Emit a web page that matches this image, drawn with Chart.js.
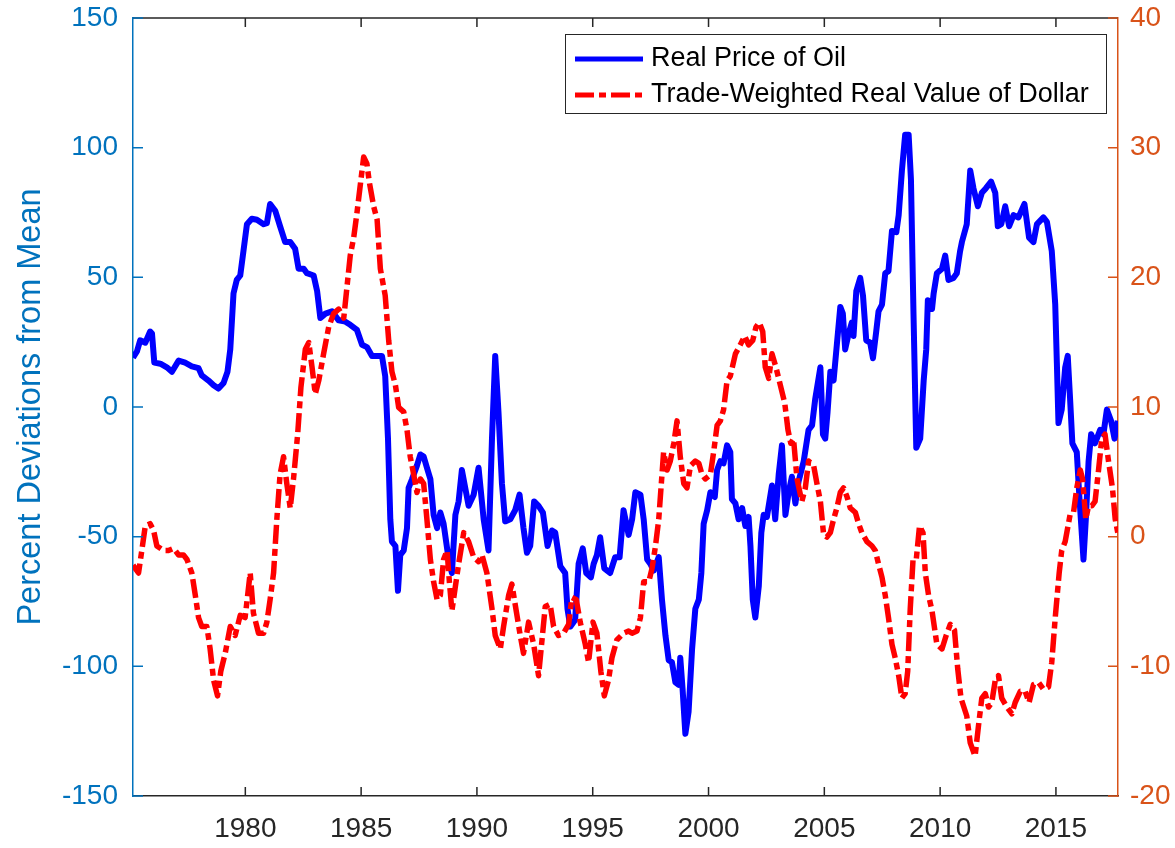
<!DOCTYPE html>
<html>
<head>
<meta charset="utf-8">
<script src="https://cdn.jsdelivr.net/npm/chart.js@4.4.0/dist/chart.umd.min.js"></script>
<style>
  html, body { margin: 0; padding: 0; background: #fff; }
  #wrap { width: 1175px; height: 848px; }
</style>
</head>
<body>
<div id="wrap"><canvas id="oilChart" width="1175" height="848"></canvas></div>
<script>
// Real price of oil, percent deviation from mean (left axis)
const oilYears = [1975.15, 1975.32, 1975.46, 1975.68, 1975.89, 1975.97, 1976.07, 1976.33, 1976.61, 1976.83,
  1977.12, 1977.40, 1977.69, 1977.98, 1978.12, 1978.41, 1978.63, 1978.84, 1979.06, 1979.23,
  1979.35, 1979.49, 1979.63, 1979.78, 1979.92, 1980.07, 1980.28, 1980.50, 1980.79, 1980.93,
  1981.07, 1981.29, 1981.50, 1981.72, 1981.94, 1982.15, 1982.30, 1982.52, 1982.66, 1982.95,
  1983.10, 1983.24, 1983.46, 1983.74, 1984.03, 1984.32, 1984.53, 1984.82, 1985.04, 1985.25,
  1985.47, 1985.76, 1985.90, 1986.04, 1986.16, 1986.26, 1986.33, 1986.48, 1986.59, 1986.69,
  1986.84, 1986.98, 1987.05, 1987.20, 1987.41, 1987.56, 1987.70, 1987.84, 1987.99, 1988.13,
  1988.28, 1988.42, 1988.56, 1988.78, 1988.92, 1989.07, 1989.21, 1989.35, 1989.64, 1989.86,
  1990.07, 1990.29, 1990.50, 1990.65, 1990.79, 1990.93, 1991.08, 1991.22, 1991.44, 1991.65,
  1991.84, 1992.01, 1992.16, 1992.30, 1992.47, 1992.66, 1992.85, 1993.05, 1993.24, 1993.38,
  1993.60, 1993.81, 1993.91, 1994.03, 1994.24, 1994.39, 1994.57, 1994.72, 1994.92, 1995.04,
  1995.18, 1995.32, 1995.50, 1995.75, 1995.97, 1996.16, 1996.33, 1996.55, 1996.70, 1996.84,
  1997.06, 1997.20, 1997.35, 1997.49, 1997.63, 1997.85, 1997.99, 1998.14, 1998.28, 1998.42,
  1998.57, 1998.71, 1998.78, 1998.88, 1999.00, 1999.14, 1999.29, 1999.43, 1999.58, 1999.69,
  1999.79, 1999.94, 2000.08, 2000.27, 2000.37, 2000.51, 2000.65, 2000.80, 2000.94, 2001.01,
  2001.16, 2001.30, 2001.45, 2001.59, 2001.73, 2001.81, 2001.91, 2002.02, 2002.17, 2002.28,
  2002.38, 2002.52, 2002.74, 2002.88, 2003.03, 2003.17, 2003.32, 2003.46, 2003.60, 2003.75,
  2003.89, 2004.11, 2004.32, 2004.47, 2004.61, 2004.83, 2004.94, 2005.04, 2005.14, 2005.26,
  2005.40, 2005.54, 2005.69, 2005.80, 2005.90, 2006.05, 2006.19, 2006.26, 2006.38, 2006.55,
  2006.67, 2006.81, 2006.98, 2007.10, 2007.24, 2007.34, 2007.49, 2007.63, 2007.77, 2007.92,
  2008.11, 2008.21, 2008.35, 2008.49, 2008.64, 2008.74, 2008.85, 2008.97, 2009.14, 2009.29,
  2009.40, 2009.47, 2009.65, 2009.72, 2009.86, 2010.08, 2010.22, 2010.36, 2010.58, 2010.72,
  2010.86, 2010.94, 2011.15, 2011.30, 2011.44, 2011.63, 2011.80, 2011.97, 2012.20, 2012.38,
  2012.49, 2012.64, 2012.81, 2012.98, 2013.17, 2013.38, 2013.64, 2013.84, 2014.03, 2014.18,
  2014.46, 2014.61, 2014.82, 2014.97, 2015.04, 2015.11, 2015.25, 2015.40, 2015.51, 2015.61,
  2015.71, 2015.90, 2016.00, 2016.19, 2016.29, 2016.41, 2016.52, 2016.69, 2016.91, 2017.05,
  2017.20, 2017.38, 2017.53, 2017.67];
const oilValues = [19, 21.4, 25.7, 24.8, 29.1, 28.3, 17.1, 16.7, 15.3, 13.6,
  17.9, 17.1, 15.7, 15.0, 12.2, 10.2, 8.4, 7.1, 9.3, 13.6,
  22.2, 43.8, 49.0, 50.7, 60.2, 70.5, 72.6, 72.2, 70.5, 70.9,
  78.3, 75.7, 69.7, 63.6, 63.6, 61.0, 53.3, 53.3, 51.6, 50.7,
  44.7, 34.3, 36.0, 36.9, 33.4, 32.9, 31.7, 29.7, 24.0, 23.1,
  19.7, 19.7, 19.7, 11.9, -12.2, -43.3, -51.9, -53.6, -70.9, -57.1,
  -55.3, -46.7, -31.2, -27.8, -22.6, -18.3, -19.1, -23.4, -27.8, -41.6,
  -46.7, -40.7, -45.0, -58.8, -64.0, -41.6, -36.4, -24.3, -38.1, -33.8,
  -23.4, -43.3, -55.3, -12.2, 19.7, -1.9, -29.5, -44.1, -43.3, -39.8,
  -33.8, -46.7, -56.2, -53.6, -36.4, -38.1, -40.7, -53.6, -47.6, -48.4,
  -61.4, -64.0, -77.8, -84.7, -82.1, -60.5, -54.5, -64.0, -65.7, -60.5,
  -57.1, -50.2, -62.2, -64.0, -57.9, -57.9, -39.8, -49.3, -43.3, -32.9,
  -33.8, -43.3, -58.8, -60.5, -63.1, -57.9, -74.3, -88.1, -97.6, -98.4,
  -106.2, -107.1, -96.7, -108.8, -126.0, -117.4, -93.3, -77.8, -74.3, -64.0,
  -45.0, -39.8, -32.9, -34.7, -24.3, -20.9, -21.7, -14.8, -17.4, -35.5,
  -37.2, -43.3, -39.0, -45.9, -42.4, -53.6, -74.3, -81.2, -69.1, -48.4,
  -41.6, -42.4, -30.3, -43.3, -26.0, -14.8, -41.6, -32.9, -26.9, -37.2,
  -28.6, -20.9, -8.8, -7.1, 3.3, 15.3, -10.5, -12.2, -1.9, 13.6,
  10.2, 24.0, 38.6, 36.0, 22.2, 28.3, 32.6, 27.4, 44.7, 49.8,
  42.9, 25.7, 24.8, 18.8, 29.1, 36.9, 39.5, 51.6, 52.4, 67.9,
  67.4, 74.0, 91.2, 105.0, 105.0, 87.8, 36.0, -15.7, -12.2, 10.2,
  22.2, 41.2, 37.8, 43.8, 51.6, 53.3, 58.4, 49.0, 49.8, 51.6,
  60.0, 63.6, 70.5, 91.2, 84.3, 77.4, 82.6, 84.3, 86.9, 82.6,
  69.7, 70.5, 77.4, 69.7, 74.0, 73.1, 78.3, 65.3, 63.6, 70.5,
  73.1, 71.4, 60.2, 39.5, 17.1, -6.2, -1.0, 15.3, 19.7, 3.3,
  -14.0, -17.4, -32.9, -58.8, -43.3, -20.9, -10.5, -14.0, -8.8, -10.5,
  -1.0, -5.3, -12.2, -5.3];

// Trade-weighted real value of the dollar (right axis)
const dollarYears = [1975.15, 1975.39, 1975.53, 1975.68, 1975.89, 1976.04, 1976.18, 1976.47, 1976.68, 1976.90,
  1977.12, 1977.33, 1977.48, 1977.69, 1977.84, 1977.98, 1978.12, 1978.34, 1978.48, 1978.63,
  1978.80, 1978.94, 1979.13, 1979.35, 1979.56, 1979.78, 1979.99, 1980.21, 1980.35, 1980.57,
  1980.79, 1980.93, 1981.07, 1981.22, 1981.36, 1981.50, 1981.65, 1981.79, 1981.94, 1982.08,
  1982.26, 1982.40, 1982.59, 1982.74, 1982.88, 1983.02, 1983.17, 1983.38, 1983.60, 1983.81,
  1984.03, 1984.25, 1984.39, 1984.53, 1984.68, 1984.82, 1984.97, 1985.11, 1985.25, 1985.35,
  1985.54, 1985.69, 1985.83, 1986.04, 1986.19, 1986.33, 1986.48, 1986.62, 1986.84, 1986.98,
  1987.12, 1987.27, 1987.41, 1987.56, 1987.70, 1987.84, 1987.99, 1988.13, 1988.28, 1988.42,
  1988.56, 1988.71, 1988.81, 1988.92, 1989.07, 1989.21, 1989.43, 1989.64, 1989.86, 1990.07,
  1990.22, 1990.43, 1990.65, 1990.79, 1991.01, 1991.15, 1991.37, 1991.51, 1991.65, 1991.87,
  1992.01, 1992.23, 1992.45, 1992.66, 1992.81, 1992.95, 1993.16, 1993.31, 1993.52, 1993.74,
  1993.96, 1994.10, 1994.29, 1994.46, 1994.68, 1994.82, 1995.01, 1995.18, 1995.35, 1995.50,
  1995.68, 1995.83, 1996.04, 1996.33, 1996.55, 1996.70, 1996.91, 1997.06, 1997.20, 1997.42,
  1997.56, 1997.71, 1997.85, 1997.99, 1998.06, 1998.21, 1998.35, 1998.50, 1998.64, 1998.78,
  1998.93, 1999.07, 1999.22, 1999.43, 1999.58, 1999.72, 1999.86, 2000.08, 2000.22, 2000.37,
  2000.51, 2000.65, 2000.80, 2000.94, 2001.16, 2001.37, 2001.56, 2001.73, 2001.91, 2002.05,
  2002.19, 2002.34, 2002.45, 2002.60, 2002.74, 2002.91, 2003.10, 2003.29, 2003.43, 2003.55,
  2003.67, 2003.82, 2004.03, 2004.18, 2004.32, 2004.54, 2004.68, 2004.83, 2004.97, 2005.11,
  2005.26, 2005.40, 2005.54, 2005.69, 2005.83, 2005.98, 2006.12, 2006.34, 2006.48, 2006.62,
  2006.84, 2007.06, 2007.20, 2007.34, 2007.49, 2007.63, 2007.77, 2007.92, 2008.06, 2008.21,
  2008.35, 2008.49, 2008.60, 2008.71, 2008.83, 2008.97, 2009.11, 2009.26, 2009.36, 2009.50,
  2009.65, 2009.86, 2010.08, 2010.26, 2010.44, 2010.62, 2010.76, 2010.90, 2011.15, 2011.30,
  2011.51, 2011.66, 2011.80, 2011.95, 2012.09, 2012.23, 2012.38, 2012.52, 2012.66, 2012.88,
  2013.10, 2013.24, 2013.46, 2013.67, 2013.84, 2014.03, 2014.25, 2014.46, 2014.68, 2014.82,
  2014.97, 2015.14, 2015.25, 2015.40, 2015.61, 2015.76, 2015.90, 2016.05, 2016.15, 2016.29,
  2016.41, 2016.55, 2016.69, 2016.84, 2016.98, 2017.12, 2017.27, 2017.44, 2017.56, 2017.67];
const dollarValues = [-2.2, -2.8, -1.07, 0.83, 1.0, 0.48, -0.72, -1.07, -1.07, -0.9,
  -1.41, -1.41, -1.76, -2.8, -4.52, -6.24, -6.93, -6.93, -8.66, -11.07,
  -12.28, -10.38, -9.0, -6.93, -7.62, -6.07, -6.24, -2.8, -5.9, -7.45,
  -7.45, -6.59, -4.86, -2.8, 1.34, 4.79, 6.17, 4.1, 2.2, 4.45,
  7.9, 11.5, 14.45, 14.97, 13.07, 11.0, 12.03, 14.1, 16.17, 17.2,
  17.55, 16.86, 19.28, 21.69, 23.07, 24.97, 27.21, 29.28, 28.76, 27.38,
  25.48, 24.45, 20.66, 18.59, 15.14, 12.72, 11.69, 9.97, 9.62, 8.24,
  6.17, 4.79, 3.41, 4.45, 4.1, 1.34, -1.76, -3.48, -4.86, -4.52,
  -1.76, -1.07, -3.48, -5.72, -3.83, -2.1, 0.31, -0.38, -1.59, -1.93,
  -1.41, -2.8, -5.55, -7.62, -8.66, -6.93, -4.52, -3.66, -5.21, -7.62,
  -9.0, -6.59, -8.31, -10.72, -7.97, -5.38, -5.21, -6.93, -7.62, -7.45,
  -6.76, -4.69, -4.86, -6.59, -8.31, -9.69, -6.59, -7.45, -10.38, -12.28,
  -11.07, -9.34, -7.97, -7.45, -7.28, -7.45, -7.28, -6.24, -3.48, -3.48,
  -2.45, -0.72, 1.34, 4.79, 6.52, 5.14, 5.83, 7.21, 8.93, 6.17,
  4.1, 3.76, 5.48, 5.83, 5.66, 4.79, 4.45, 4.79, 6.52, 8.59,
  8.93, 9.79, 12.03, 12.38, 14.1, 14.79, 15.48, 14.79, 15.14, 16.17,
  16.52, 15.83, 13.07, 12.21, 14.1, 13.07, 11.69, 10.31, 8.24, 7.2,
  7.55, 4.45, 2.72, 3.76, 5.83, 5.48, 4.1, 2.72, 0.14, -0.03,
  0.31, 1.34, 2.21, 3.41, 3.76, 3.07, 2.21, 1.86, 1.0, 0.31,
  -0.38, -0.72, -1.07, -2.1, -3.14, -4.52, -6.24, -8.31, -9.34, -10.72,
  -12.45, -12.1, -10.38, -5.55, -1.76, -1.76, 0.83, 0.31, -2.8, -4.52,
  -5.72, -8.31, -8.66, -7.62, -6.76, -7.2, -10.2, -12.45, -13.83, -15.9,
  -16.93, -14.52, -12.45, -12.1, -13.14, -12.79, -11.07, -10.72, -12.45, -13.14,
  -13.66, -12.79, -11.93, -11.93, -12.79, -11.41, -11.24, -11.76, -11.59, -9.69,
  -6.24, -2.8, -1.07, -0.38, 1.69, 1.86, 3.76, 5.14, 4.45, 1.34,
  2.38, 2.38, 2.72, 5.14, 7.55, 7.9, 5.83, 3.76, 1.34, 0.31];

const yearTicks = [1980, 1985, 1990, 1995, 2000, 2005, 2010, 2015];
const leftTicks = [-150, -100, -50, 0, 50, 100, 150];
const rightTicks = [-20, -10, 0, 10, 20, 30, 40];
const seriesNames = ["Real Price of Oil", "Trade-Weighted Real Value of Dollar"];

const FONT = "'Liberation Sans', Arial, Helvetica, sans-serif";
const DASH = [19, 5, 7, 5];

// inward ticks, top frame line and the boxed legend
const framePlugin = {
    id: "frame",
    afterDraw(chart) {
        const ctx = chart.ctx;
        const a = chart.chartArea;
        const xs = chart.scales.x;
        const yl = chart.scales.yLeft;
        const yr = chart.scales.yRight;

        ctx.save();
        ctx.lineWidth = 1.5;
        ctx.strokeStyle = "#262626";
        ctx.beginPath();
        ctx.moveTo(a.left, a.top);
        ctx.lineTo(a.right, a.top);
        yearTicks.forEach(t => {
            const px = xs.getPixelForValue(t);
            ctx.moveTo(px, a.bottom);
            ctx.lineTo(px, a.bottom - 9);
            ctx.moveTo(px, a.top);
            ctx.lineTo(px, a.top + 9);
        });
        ctx.stroke();

        ctx.strokeStyle = "#0072BD";
        ctx.beginPath();
        leftTicks.forEach(t => {
            const py = yl.getPixelForValue(t);
            ctx.moveTo(a.left, py);
            ctx.lineTo(a.left + 10, py);
        });
        ctx.stroke();

        ctx.strokeStyle = "#D95319";
        ctx.beginPath();
        rightTicks.forEach(t => {
            const py = yr.getPixelForValue(t);
            ctx.moveTo(a.right, py);
            ctx.lineTo(a.right - 10, py);
        });
        ctx.stroke();

        // legend box
        const bx = 565, by = 34, bw = 541, bh = 79;
        ctx.fillStyle = "#ffffff";
        ctx.fillRect(bx, by, bw, bh);
        ctx.strokeStyle = "#262626";
        ctx.lineWidth = 1;
        ctx.strokeRect(bx + 0.5, by + 0.5, bw, bh);

        const rows = [59, 95];
        const colors = ["#0000FF", "#FF0000"];
        const dashes = [[], DASH];
        ctx.lineWidth = 5;
        rows.forEach((ry, i) => {
            ctx.strokeStyle = colors[i];
            ctx.setLineDash(dashes[i]);
            ctx.beginPath();
            ctx.moveTo(575, ry);
            ctx.lineTo(643, ry);
            ctx.stroke();
        });
        ctx.setLineDash([]);
        ctx.fillStyle = "#000000";
        ctx.font = "27px " + FONT;
        ctx.textBaseline = "middle";
        ctx.textAlign = "left";
        rows.forEach((ry, i) => ctx.fillText(seriesNames[i], 651, ry));
        ctx.restore();
    }
};

// fixed box sizes so the plot area sits where the reference has it
function fixWidth(w) {
    return s => { s.width = w; s.paddingTop = 0; s.paddingBottom = 0; };
}

const ctx = document.getElementById("oilChart").getContext("2d");
new Chart(ctx, {
    type: "line",
    data: {
        datasets: [
            {
                label: seriesNames[1],
                data: dollarYears.map((yr, i) => ({ x: yr, y: dollarValues[i] })),
                yAxisID: "yRight",
                borderColor: "#FF0000",
                borderWidth: 5.5,
                borderDash: DASH,
                order: 0
            },
            {
                label: seriesNames[0],
                data: oilYears.map((yr, i) => ({ x: yr, y: oilValues[i] })),
                yAxisID: "yLeft",
                borderColor: "#0000FF",
                borderWidth: 6,
                order: 1
            }
        ]
    },
    options: {
        responsive: false,
        animation: false,
        devicePixelRatio: 1,
        layout: { padding: { top: 18, left: 0, right: 0, bottom: 0 } },
        elements: {
            point: { radius: 0 },
            line: { tension: 0, borderJoinStyle: "round", fill: false }
        },
        plugins: {
            legend: { display: false },
            tooltip: { enabled: false }
        },
        scales: {
            x: {
                type: "linear",
                min: 1975.15,
                max: 2017.68,
                afterBuildTicks: s => { s.ticks = yearTicks.map(v => ({ value: v })); },
                afterFit: s => { s.height = 52; s.paddingLeft = 0; s.paddingRight = 0; },
                grid: { drawOnChartArea: false, drawTicks: false },
                border: { color: "#262626", width: 1.5 },
                ticks: {
                    padding: 16,
                    color: "#262626",
                    font: { family: FONT, size: 28 },
                    maxRotation: 0,
                    callback: v => String(v)
                }
            },
            yLeft: {
                position: "left",
                min: -150,
                max: 150,
                afterBuildTicks: s => { s.ticks = leftTicks.map(v => ({ value: v })); },
                afterFit: fixWidth(133),
                grid: { drawOnChartArea: false, drawTicks: false },
                border: { color: "#0072BD", width: 1.5 },
                ticks: {
                    padding: 15,
                    color: "#0072BD",
                    font: { family: FONT, size: 28 },
                    callback: v => String(v)
                },
                title: {
                    display: true,
                    text: "Percent Deviations from Mean",
                    color: "#0072BD",
                    font: { family: FONT, size: 32.5 },
                    padding: { top: 12, bottom: 0 }
                }
            },
            yRight: {
                position: "right",
                min: -20,
                max: 40,
                afterBuildTicks: s => { s.ticks = rightTicks.map(v => ({ value: v })); },
                afterFit: fixWidth(57),
                grid: { drawOnChartArea: false, drawTicks: false },
                border: { color: "#D95319", width: 1.5 },
                ticks: {
                    padding: 12,
                    color: "#D95319",
                    font: { family: FONT, size: 28 },
                    callback: v => String(v)
                }
            }
        }
    },
    plugins: [framePlugin]
});
</script>
</body>
</html>
